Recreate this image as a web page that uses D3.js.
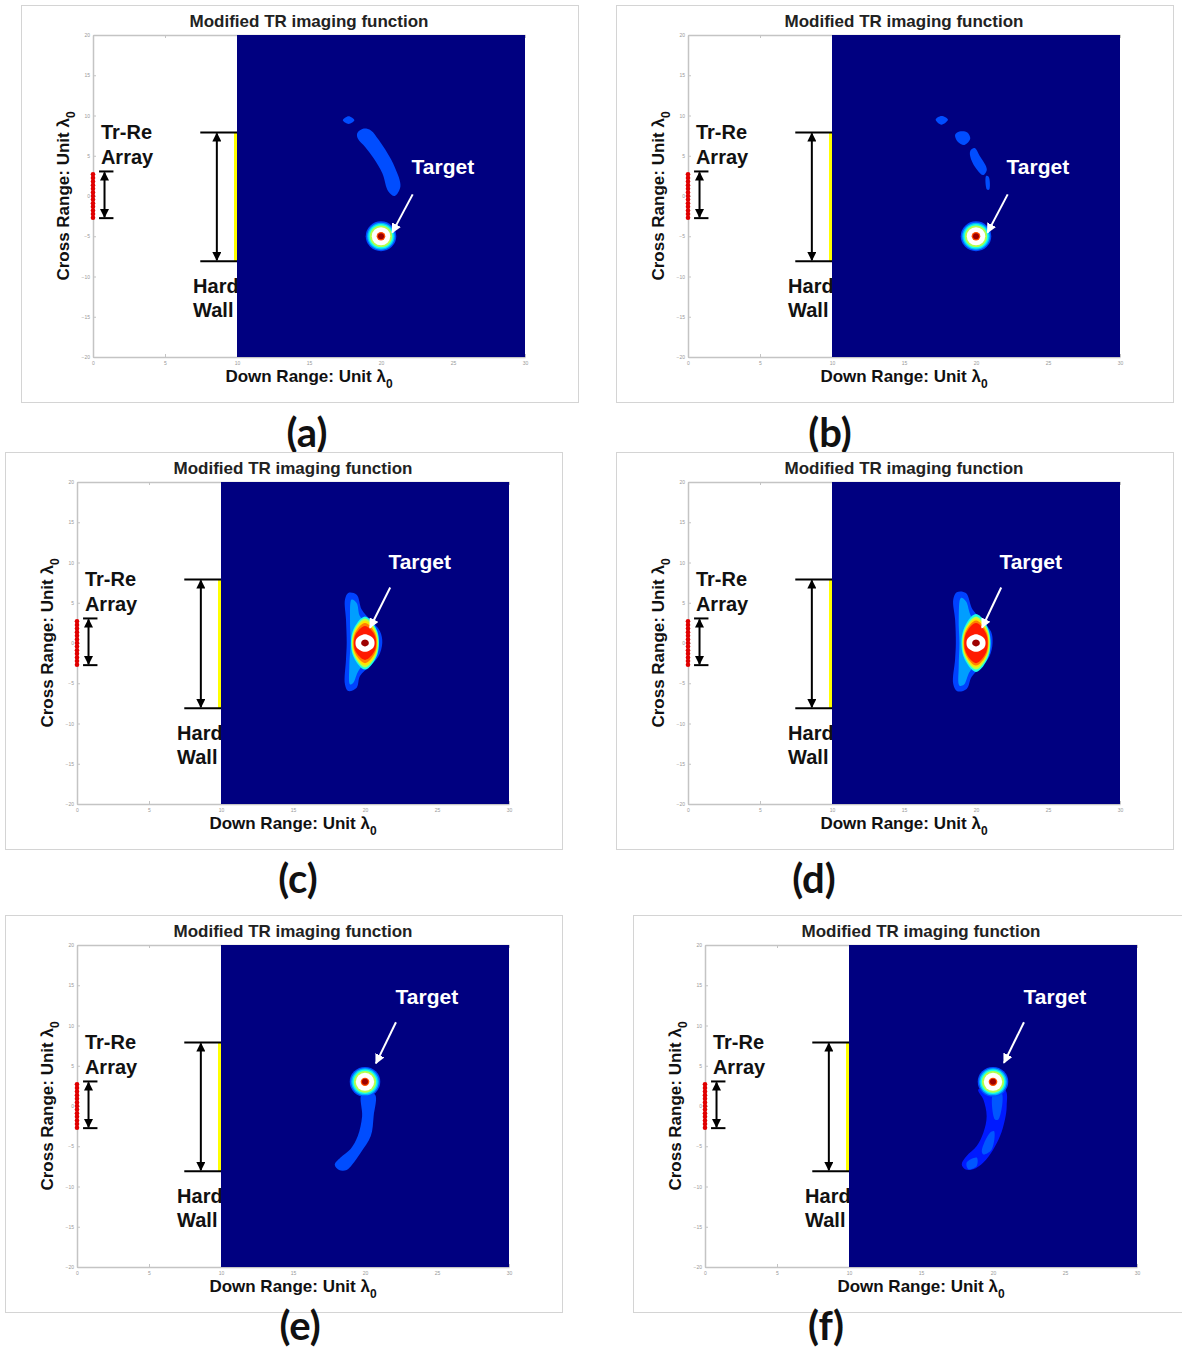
<!DOCTYPE html>
<html>
<head>
<meta charset="utf-8">
<script src="https://cdn.jsdelivr.net/npm/d3@7"></script>
<style>
body { margin: 0; background: #fff; }
text { font-family: "Liberation Sans", Arial, sans-serif; }
</style>
</head>
<body>
<div id="chartArea"></div>
<script>
var W = 1182, H = 1348;

// axis ticks (unit lambda0)
var xTicks = [0, 5, 10, 15, 20, 25, 30];
var yTicks = [-20, -15, -10, -5, 0, 5, 10, 15, 20];

var panelNames = ['(a)', '(b)', '(c)', '(d)', '(e)', '(f)'];

// target position in each panel
var targetX = [20, 20, 20, 20, 20, 20];
var targetY = [-5, -5, 0, 0, 3, 3];

// "Target" label and its arrow
var labelX = [24.3, 24.3, 23.8, 23.8, 24.3, 24.3];
var labelY = [2.7, 2.7, 9.2, 9.2, 12.7, 12.7];
var arrowFrom = [[22.2, 0.2], [22.2, 0.2], [21.75, 6.9], [21.75, 6.9], [22.15, 10.4], [22.15, 10.4]];
var arrowTo = [[20.78, -4.55], [20.8, -4.55], [20.35, 1.9], [20.42, 1.9], [20.76, 5.3], [20.76, 5.35]];

// tr-re array elements at x = 0
var arrayY = [-2.7, -2.25, -1.8, -1.35, -0.9, -0.45, 0, 0.45, 0.9, 1.35, 1.8, 2.25, 2.7];
var arraySpan = [-2.75, 3.05];
var wallX = 10;
var wallSpan = [-8.1, 7.9];

// contour rings around the target: [half width, half height, level]
var ringsPoint = [[1.06, 1.85, 0.2], [0.96, 1.68, 0.3], [0.87, 1.52, 0.4], [0.77, 1.34, 0.55], [0.64, 1.12, 2], [0.3, 0.52, 0.8], [0.21, 0.37, 0.97]];
var ringsSpreadC = [[0.85, 3.3, 0.4], [0.8, 3.05, 0.55], [0.76, 2.8, 0.65], [0.72, 2.5, 0.75], [0.68, 2.1, 0.85], [0.6, 1.1, 2], [0.24, 0.43, 0.97]];
var ringsSpreadD = [[0.88, 3.6, 0.4], [0.83, 3.3, 0.55], [0.79, 3.05, 0.65], [0.75, 2.8, 0.75], [0.71, 2.5, 0.85], [0.6, 1.1, 2], [0.24, 0.43, 0.97]];

// other contour regions: level + outline points
var blobsA = [
  { level: 0.2, pts: [[17.35, 9.4], [17.75, 9.9], [18.15, 9.4], [17.75, 8.95]] },
  { level: 0.2, pts: [[18.35, 7.8], [18.75, 8.35], [19.3, 8.15], [19.85, 6.95], [20.45, 5.3], [20.95, 3.6], [21.35, 1.2], [20.95, 0.0], [20.5, 0.6], [20.1, 2.8], [19.5, 4.65], [18.9, 6.1], [18.4, 7.1]] }
];
var blobsB = [
  { level: 0.2, pts: [[17.2, 9.5], [17.6, 9.95], [18.05, 9.5], [17.6, 8.85]] },
  { level: 0.2, pts: [[18.55, 7.6], [18.85, 8.0], [19.4, 7.9], [19.6, 7.1], [19.2, 6.35], [18.75, 6.7]] },
  { level: 0.2, pts: [[19.6, 5.6], [19.9, 5.95], [20.25, 5.0], [20.75, 3.3], [20.5, 2.6], [20.1, 3.2], [19.65, 4.6]] },
  { level: 0.2, pts: [[20.7, 2.5], [20.88, 2.4], [20.92, 0.8], [20.76, 0.8]] }
];
var blobsC = [
  { level: 0.19, pts: [[18.84, 6.22], [19.42, 6.0], [19.77, 4.15], [20.35, 2.91], [21.04, 1.46], [21.2, 0.02], [20.95, -1.63], [20.35, -2.87], [19.65, -4.11], [19.42, -5.55], [18.84, -5.97], [18.61, -5.14], [18.68, -2.04], [18.73, 0.02], [18.68, 2.91], [18.61, 5.39]] },
  { level: 0.28, pts: [[19.07, 5.39], [19.42, 4.97], [19.65, 3.32], [20.12, 2.5], [20.72, 1.26], [20.85, 0.02], [20.6, -1.42], [20.12, -2.25], [19.54, -3.49], [19.19, -4.93], [18.96, -5.14], [18.91, -2.87], [19.0, 0.02], [18.96, 2.91]] }
];
var blobsD = [
  { level: 0.19, pts: [[18.66, 6.3], [19.3, 6.2], [19.75, 4.2], [20.4, 2.9], [21.05, 1.4], [21.15, 0.0], [20.95, -1.6], [20.4, -2.9], [19.7, -4.2], [19.35, -5.7], [18.7, -6.0], [18.42, -5.1], [18.55, -2.0], [18.6, 0], [18.55, 2.9], [18.42, 5.4]] },
  { level: 0.28, pts: [[18.95, 5.6], [19.3, 5.2], [19.65, 3.4], [20.15, 2.5], [20.72, 1.2], [20.85, 0], [20.62, -1.4], [20.15, -2.3], [19.55, -3.6], [19.15, -5.2], [18.85, -5.3], [18.8, -2.9], [18.85, 0], [18.8, 2.9]] }
];
var blobsE = [
  { level: 0.2, pts: [[19.77, 1.42], [20.69, 1.42], [20.6, -1.26], [20.4, -3.74], [19.7, -5.8], [19.1, -7.3], [18.73, -7.95], [18.2, -7.95], [17.9, -7.3], [18.3, -6.4], [19.0, -5.35], [19.5, -3.74], [19.8, -1.26]] }
];
var blobsF = [
  { level: 0.15, pts: [[18.98, 2.04], [20.83, 2.04], [20.95, -0.02], [20.83, -1.67], [20.49, -3.74], [20.02, -5.39], [19.33, -7.03], [18.63, -7.86], [18.06, -7.86], [17.83, -7.24], [18.17, -6.21], [18.87, -4.98], [19.33, -3.32], [19.56, -1.26], [19.33, 0.8]] },
  { level: 0.21, pts: [[20.02, 1.63], [20.6, 1.63], [20.37, -1.67], [20.14, -1.67]] },
  { level: 0.21, pts: [[19.79, -3.32], [20.07, -3.12], [19.91, -5.39], [19.33, -6.01], [19.22, -5.6]] },
  { level: 0.21, pts: [[18.17, -7.03], [18.87, -6.41], [18.87, -7.45], [18.29, -7.86]] }
];

var blobsAll = [blobsA, blobsB, blobsC, blobsD, blobsE, blobsF];
var ringsAll = [ringsPoint, ringsPoint, ringsSpreadC, ringsSpreadD, ringsPoint, ringsPoint];
var hexRings = [false, false, true, true, false, false];

// layout of the six panels (frame top-left) and their captions
var frameX = [21, 616, 5, 616, 5, 633];
var frameY = [5, 5, 452, 452, 915, 915];
var captionX = [307, 830, 298, 814, 300, 826];
var captionY = [447, 447, 893, 893, 1340, 1340];

// jet colour map, values above 1 are drawn white
function jet(v) {
  if (v > 1) return '#ffffff';
  var c = function (t) { return Math.round(255 * Math.max(0, Math.min(1, 1.5 - Math.abs(t)))); };
  return d3.rgb(c(4 * v - 3), c(4 * v - 2), c(4 * v - 1)).toString();
}

var svg = d3.select('#chartArea').append('svg')
  .attr('width', W)
  .attr('height', H);

var defs = svg.append('defs');
defs.append('marker').attr('id', 'headB')
  .attr('viewBox', '0 0 10 10').attr('refX', 9).attr('refY', 5)
  .attr('markerWidth', 4.5).attr('markerHeight', 4.5).attr('orient', 'auto-start-reverse')
  .attr('markerUnits', 'strokeWidth')
  .append('path').attr('d', 'M0,0 L10,5 L0,10 Z').attr('fill', '#000');
defs.append('marker').attr('id', 'headW')
  .attr('viewBox', '0 0 10 10').attr('refX', 9).attr('refY', 5)
  .attr('markerWidth', 5).attr('markerHeight', 5).attr('orient', 'auto')
  .attr('markerUnits', 'strokeWidth')
  .append('path').attr('d', 'M0,0 L10,5 L0,10 Z').attr('fill', '#fff');

panelNames.forEach(function (name, i) {
  var fx = frameX[i], fy = frameY[i];
  var x = d3.scaleLinear().domain([0, 30]).range([fx + 72, fx + 504]);
  var y = d3.scaleLinear().domain([-20, 20]).range([fy + 352, fy + 30]);
  var g = svg.append('g');

  g.append('rect')
    .attr('x', fx + 0.5).attr('y', fy + 0.5)
    .attr('width', 557).attr('height', 397)
    .attr('fill', '#fff').attr('stroke', '#d4d4d4');

  // title
  g.append('text')
    .attr('x', (x(0) + x(30)) / 2).attr('y', fy + 22)
    .attr('text-anchor', 'middle')
    .style('font-size', '17px').style('font-weight', 'bold').attr('fill', '#222')
    .text('Modified TR imaging function');

  // axes box with inward ticks
  var axStyle = function (sel) {
    sel.select('.domain').attr('stroke', '#c4c4c4').attr('stroke-width', 1.5);
    sel.selectAll('.tick line').attr('stroke', '#c4c4c4');
    sel.selectAll('.tick text').attr('fill', '#999').style('font-size', '5px');
  };
  g.append('g').attr('transform', 'translate(0,' + y(-20) + ')')
    .call(d3.axisBottom(x).tickValues(xTicks).tickSizeInner(-3).tickSizeOuter(0).tickPadding(4))
    .call(axStyle);
  g.append('g').attr('transform', 'translate(0,' + y(20) + ')')
    .call(d3.axisTop(x).tickValues(xTicks).tickSizeInner(-3).tickSizeOuter(0).tickFormat(''))
    .call(axStyle);
  g.append('g').attr('transform', 'translate(' + x(0) + ',0)')
    .call(d3.axisLeft(y).tickValues(yTicks).tickSizeInner(-3).tickSizeOuter(0).tickPadding(3))
    .call(axStyle);

  // axis labels
  var xl = g.append('text')
    .attr('x', (x(0) + x(30)) / 2).attr('y', y(-20) + 25)
    .attr('text-anchor', 'middle')
    .style('font-size', '17px').style('font-weight', 'bold').attr('fill', '#111');
  xl.append('tspan').text('Down Range: Unit \u03bb');
  xl.append('tspan').attr('dy', 6).style('font-size', '12px').text('0');

  var yl = g.append('text')
    .attr('transform', 'translate(' + (x(0) - 24) + ',' + y(0) + ') rotate(-90)')
    .attr('text-anchor', 'middle')
    .style('font-size', '17px').style('font-weight', 'bold').attr('fill', '#111');
  yl.append('tspan').text('Cross Range: Unit \u03bb');
  yl.append('tspan').attr('dy', 6).style('font-size', '12px').text('0');

  // annotations on the white side
  var big = function (t, px, py) {
    return g.append('text').attr('x', x(px)).attr('y', y(py))
      .style('font-size', '20px').style('font-weight', 'bold').attr('fill', '#111').text(t);
  };
  big('Tr-Re', 0.55, 7.1);
  big('Array', 0.55, 4.0);
  big('Hard', 6.95, -12.0);
  big('Wall', 6.95, -15.05);

  // imaging region
  g.append('rect')
    .attr('x', x(10)).attr('y', y(20))
    .attr('width', x(30) - x(10)).attr('height', y(-20) - y(20))
    .attr('fill', jet(0));

  var line = d3.line()
    .x(function (d) { return x(d[0]); })
    .y(function (d) { return y(d[1]); })
    .curve(d3.curveCatmullRomClosed.alpha(0.5));

  g.selectAll('path.blob')
    .data(blobsAll[i])
    .enter()
    .append('path')
    .attr('class', 'blob')
    .attr('d', function (d) { return line(d.pts); })
    .attr('fill', function (d) { return jet(d.level); });

  var tx = targetX[i], ty = targetY[i];
  if (hexRings[i]) {
    g.selectAll('path.ring')
      .data(ringsAll[i])
      .enter()
      .append('path')
      .attr('class', 'ring')
      .attr('d', function (d) {
        var rx = d[0], ry = d[1];
        return line([[tx, ty + ry], [tx + rx, ty + 0.45 * ry], [tx + rx, ty - 0.45 * ry],
          [tx, ty - ry], [tx - rx, ty - 0.45 * ry], [tx - rx, ty + 0.45 * ry]]);
      })
      .attr('fill', function (d) { return jet(d[2]); });
  } else {
    g.selectAll('ellipse.ring')
      .data(ringsAll[i])
      .enter()
      .append('ellipse')
      .attr('class', 'ring')
      .attr('cx', x(tx)).attr('cy', y(ty))
      .attr('rx', function (d) { return x(tx + d[0]) - x(tx); })
      .attr('ry', function (d) { return y(ty) - y(ty + d[1]); })
      .attr('fill', function (d) { return jet(d[2]); });
  }

  // wall
  g.append('line')
    .attr('x1', x(wallX) - 1.5).attr('x2', x(wallX) - 1.5)
    .attr('y1', y(wallSpan[1])).attr('y2', y(wallSpan[0]))
    .attr('stroke', '#ffff00').attr('stroke-width', 3);
  wallSpan.forEach(function (v) {
    g.append('line')
      .attr('x1', x(7.45)).attr('x2', x(wallX))
      .attr('y1', y(v)).attr('y2', y(v))
      .attr('stroke', '#000').attr('stroke-width', 2);
  });
  g.append('line')
    .attr('x1', x(8.6)).attr('x2', x(8.6))
    .attr('y1', y(wallSpan[1]) + 1).attr('y2', y(wallSpan[0]) - 1)
    .attr('stroke', '#000').attr('stroke-width', 2)
    .attr('marker-start', 'url(#headB)').attr('marker-end', 'url(#headB)');

  // array
  g.selectAll('circle.elem')
    .data(arrayY)
    .enter()
    .append('circle')
    .attr('class', 'elem')
    .attr('cx', x(0)).attr('cy', function (d) { return y(d); })
    .attr('r', 2.3)
    .attr('fill', '#e00000');
  arraySpan.forEach(function (v) {
    g.append('line')
      .attr('x1', x(0.42)).attr('x2', x(1.42))
      .attr('y1', y(v)).attr('y2', y(v))
      .attr('stroke', '#000').attr('stroke-width', 2);
  });
  g.append('line')
    .attr('x1', x(0.8)).attr('x2', x(0.8))
    .attr('y1', y(arraySpan[1]) + 1).attr('y2', y(arraySpan[0]) - 1)
    .attr('stroke', '#000').attr('stroke-width', 2)
    .attr('marker-start', 'url(#headB)').attr('marker-end', 'url(#headB)');

  // target label + arrow
  g.append('line')
    .attr('x1', x(arrowFrom[i][0])).attr('y1', y(arrowFrom[i][1]))
    .attr('x2', x(arrowTo[i][0])).attr('y2', y(arrowTo[i][1]))
    .attr('stroke', '#fff').attr('stroke-width', 2)
    .attr('marker-end', 'url(#headW)');
  g.append('text')
    .attr('x', x(labelX[i])).attr('y', y(labelY[i]))
    .attr('text-anchor', 'middle')
    .style('font-size', '21px').style('font-weight', 'bold').attr('fill', '#fff')
    .text('Target');

  // caption
  svg.append('text')
    .attr('x', captionX[i]).attr('y', captionY[i])
    .attr('text-anchor', 'middle')
    .style('font-family', 'Lato, sans-serif')
    .style('font-size', '40px').style('font-weight', 'bold').attr('fill', '#111')
    .text(name);
});
</script>
</body>
</html>
